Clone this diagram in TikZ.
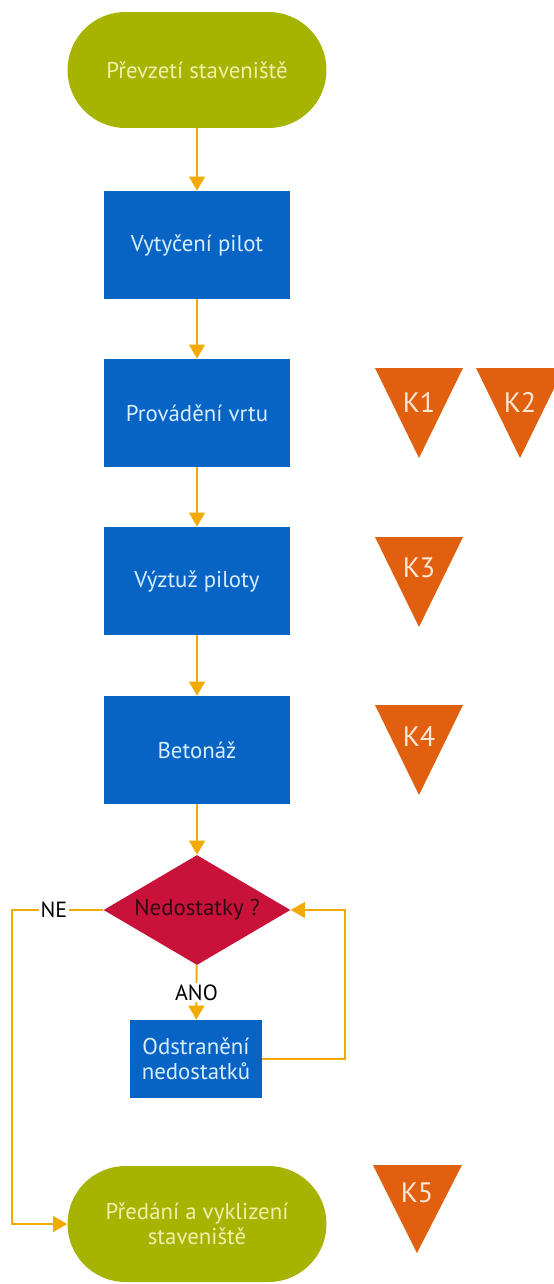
\documentclass[tikz,border=0pt]{standalone}
\usepackage{fontspec}
\setmainfont{PT Sans}
\usetikzlibrary{shapes.geometric,arrows.meta}
\definecolor{termgreen}{RGB}{166,180,0}
\definecolor{termtext}{RGB}{238,240,170}
\definecolor{stepblue}{RGB}{8,100,196}
\definecolor{steptext}{RGB}{215,238,255}
\definecolor{decred}{RGB}{200,18,58}
\definecolor{dectext}{RGB}{50,8,20}
\definecolor{korange}{RGB}{224,96,16}
\definecolor{ktext}{RGB}{255,232,215}
\definecolor{floworange}{RGB}{242,170,0}
\tikzset{
  terminal/.style={rectangle,rounded corners=1.16cm,fill=termgreen,text=termtext,
    minimum width=5.18cm,minimum height=2.32cm,align=center,
    font=\fontsize{13}{14.5}\selectfont},
  stepbox/.style={rectangle,fill=stepblue,text=steptext,minimum width=3.74cm,
    minimum height=2.16cm,align=center,font=\fontsize{13}{15}\selectfont},
  decision/.style={diamond,aspect=1.7,fill=decred,text=dectext,inner sep=0pt,
    minimum width=3.74cm,minimum height=2.2cm,font=\fontsize{13}{15}\selectfont},
  flow/.style={draw=floworange,line width=1.1pt,-{Triangle[width=9pt,length=8pt]}},
  answer/.style={fill=white,inner sep=1pt,font=\fontsize{12.5}{14}\selectfont},
  ktri/.style={fill=korange},
  klabel/.style={text=ktext,font=\fontsize{16}{18}\selectfont}
}
\begin{document}
\begin{tikzpicture}[x=0.02cm,y=-0.02cm]
        \useasboundingbox (0,0) rectangle (554,1284);
        %% Main steps
        \node[terminal] (start) at (197,70) {Převzetí staveniště};
        \node[stepbox] (stake) at (197,245) {Vytyčení pilot};
        \node[stepbox] (drill) at (197,413) {Provádění vrtu};
        \node[stepbox] (rebar) at (197,581) {Výztuž piloty};
        \node[stepbox] (concrete) at (197,750) {Betonáž};
        \node[decision] (check) at (197,910) {Nedostatky ?};
        \node[stepbox,minimum width=2.64cm,minimum height=1.56cm,
              font=\fontsize{13}{14.5}\selectfont] (fix) at (196,1059) {Odstranění\\nedostatků};
        \node[terminal] (finish) at (197,1224) {Předání a vyklizení\\staveniště};
        %% Loop corners
        \coordinate (loopright) at (345,910);
        \coordinate (noleft) at (12,910);
        %% Connectors
        \draw[flow] (start) -- (stake);
        \draw[flow] (stake) -- (drill);
        \draw[flow] (drill) -- (rebar);
        \draw[flow] (rebar) -- (concrete);
        \draw[flow] (concrete) -- (check);
        \draw[flow] (check) -- node[answer] {ANO} (fix);
        \draw[flow] (fix.east) -| (loopright) -- (check.east);
        \draw[flow] (check.west) -- node[answer,pos=0.54] {NE} (noleft) |- (finish.west);
        %% Checkpoints
        \fill[ktri] (375,368) -- (463,368) -- (419,458) -- cycle;
        \node[klabel] (k1) at (419,402) {K1};
        \fill[ktri] (476,368) -- (564,368) -- (520,458) -- cycle;
        \node[klabel] (k2) at (520,402) {K2};
        \fill[ktri] (375,537) -- (463,537) -- (419,627) -- cycle;
        \node[klabel] (k3) at (419,568) {K3};
        \fill[ktri] (375,705) -- (463,705) -- (419,795) -- cycle;
        \node[klabel] (k4) at (419,736) {K4};
        \fill[ktri] (373,1165) -- (462,1165) -- (417,1253) -- cycle;
        \node[klabel] (k5) at (417,1193) {K5};
    \end{tikzpicture}
\end{document}
